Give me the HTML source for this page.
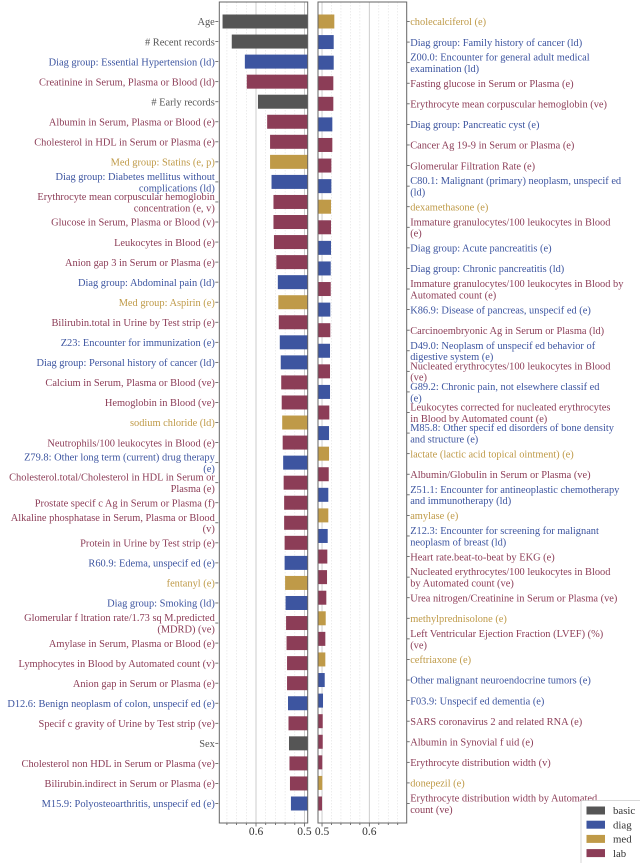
<!DOCTYPE html>
<html><head><meta charset="utf-8"><style>
body{margin:0;background:#fff;}
svg{display:block;font-family:"Liberation Serif",serif;}
</style></head><body>
<svg id="chart" width="640" height="863" viewBox="0 0 640 863" xmlns="http://www.w3.org/2000/svg"></svg>
<script>
const leftLabels=["Age","# Recent records","Diag group: Essential Hypertension (ld)","Creatinine in Serum, Plasma or Blood (ld)","# Early records","Albumin in Serum, Plasma or Blood (e)","Cholesterol in HDL in Serum or Plasma (e)","Med group: Statins (e, p)","Diag group: Diabetes mellitus without\ncomplications (ld)","Erythrocyte mean corpuscular hemoglobin\nconcentration (e, v)","Glucose in Serum, Plasma or Blood (v)","Leukocytes in Blood (e)","Anion gap 3 in Serum or Plasma (e)","Diag group: Abdominal pain (ld)","Med group: Aspirin (e)","Bilirubin.total in Urine by Test strip (e)","Z23: Encounter for immunization (e)","Diag group: Personal history of cancer (ld)","Calcium in Serum, Plasma or Blood (ve)","Hemoglobin in Blood (ve)","sodium chloride (ld)","Neutrophils/100 leukocytes in Blood (e)","Z79.8: Other long term (current) drug therapy\n(e)","Cholesterol.total/Cholesterol in HDL in Serum or\nPlasma (e)","Prostate specif c Ag in Serum or Plasma (f)","Alkaline phosphatase in Serum, Plasma or Blood\n(v)","Protein in Urine by Test strip (e)","R60.9: Edema, unspecif ed (e)","fentanyl (e)","Diag group: Smoking (ld)","Glomerular f ltration rate/1.73 sq M.predicted\n(MDRD) (ve)","Amylase in Serum, Plasma or Blood (e)","Lymphocytes in Blood by Automated count (v)","Anion gap in Serum or Plasma (e)","D12.6: Benign neoplasm of colon, unspecif ed (e)","Specif c gravity of Urine by Test strip (ve)","Sex","Cholesterol non HDL in Serum or Plasma (ve)","Bilirubin.indirect in Serum or Plasma (e)","M15.9: Polyosteoarthritis, unspecif ed (e)"];
const leftValues=[0.669,0.650,0.623,0.619,0.596,0.577,0.571,0.571,0.568,0.564,0.564,0.563,0.558,0.555,0.554,0.553,0.551,0.549,0.548,0.547,0.546,0.545,0.544,0.543,0.542,0.542,0.541,0.541,0.540,0.539,0.538,0.537,0.536,0.536,0.534,0.533,0.532,0.531,0.530,0.528];
const leftGroups=["basic","basic","diag","lab","basic","lab","lab","med","diag","lab","lab","lab","lab","diag","med","lab","diag","diag","lab","lab","med","lab","diag","lab","lab","lab","lab","diag","med","diag","lab","lab","lab","lab","diag","lab","basic","lab","lab","diag"];
const rightLabels=["cholecalciferol (e)","Diag group: Family history of cancer (ld)","Z00.0: Encounter for general adult medical\nexamination (ld)","Fasting glucose in Serum or Plasma (e)","Erythrocyte mean corpuscular hemoglobin (ve)","Diag group: Pancreatic cyst (e)","Cancer Ag 19-9 in Serum or Plasma (e)","Glomerular Filtration Rate (e)","C80.1: Malignant (primary) neoplasm, unspecif ed\n(ld)","dexamethasone (e)","Immature granulocytes/100 leukocytes in Blood\n(e)","Diag group: Acute pancreatitis (e)","Diag group: Chronic pancreatitis (ld)","Immature granulocytes/100 leukocytes in Blood by\nAutomated count (e)","K86.9: Disease of pancreas, unspecif ed (e)","Carcinoembryonic Ag in Serum or Plasma (ld)","D49.0: Neoplasm of unspecif ed behavior of\ndigestive system (e)","Nucleated erythrocytes/100 leukocytes in Blood\n(ve)","G89.2: Chronic pain, not elsewhere classif ed\n(e)","Leukocytes corrected for nucleated erythrocytes\nin Blood by Automated count (e)","M85.8: Other specif ed disorders of bone density\nand structure (e)","lactate (lactic acid topical ointment) (e)","Albumin/Globulin in Serum or Plasma (ve)","Z51.1: Encounter for antineoplastic chemotherapy\nand immunotherapy (ld)","amylase (e)","Z12.3: Encounter for screening for malignant\nneoplasm of breast (ld)","Heart rate.beat-to-beat by EKG (e)","Nucleated erythrocytes/100 leukocytes in Blood\nby Automated count (ve)","Urea nitrogen/Creatinine in Serum or Plasma (ve)","methylprednisolone (e)","Left Ventricular Ejection Fraction (LVEF) (%)\n(ve)","ceftriaxone (e)","Other malignant neuroendocrine tumors (e)","F03.9: Unspecif ed dementia (e)","SARS coronavirus 2 and related RNA (e)","Albumin in Synovial f uid (e)","Erythrocyte distribution width (v)","donepezil (e)","Erythrocyte distribution width by Automated\ncount (ve)"];
const rightValues=[0.526,0.5247,0.5247,0.5239,0.5239,0.5218,0.5218,0.5197,0.5197,0.519,0.519,0.519,0.5184,0.5184,0.5175,0.5175,0.5169,0.5169,0.5169,0.5154,0.5148,0.5148,0.5142,0.5133,0.5133,0.512,0.5112,0.5106,0.5091,0.5078,0.507,0.507,0.5057,0.5021,0.5015,0.5015,0.5006,0.5006,0.5];
const rightGroups=["med","diag","diag","lab","lab","diag","lab","lab","diag","med","lab","diag","diag","lab","diag","lab","diag","lab","diag","lab","diag","med","lab","diag","med","diag","lab","lab","lab","med","lab","med","diag","diag","lab","lab","lab","med","lab"];
const legendNames=["basic","diag","med","lab"];
const tickValues=[0.6,0.5];

const colors={basic:"#555555",diag:"#3d55a0",med:"#bf9a48",lab:"#8c3d57"};
const NS="http://www.w3.org/2000/svg";
const svg=document.getElementById('chart');
function mk(tag,attrs,parent){const e=document.createElementNS(NS,tag);for(const k in attrs)e.setAttribute(k,attrs[k]);(parent||svg).appendChild(e);return e;}
const topY=2,bottomY=823,rowTop=21.5,rowBot=803.5;
const L={x0:219.3,x1:307.7,d0:0.6757,d1:0.4934};
const R={x0:318,x1:406.7,d0:0.4915,d1:0.679};
function sx(p,v){return p.x0+(v-p.d0)/(p.d1-p.d0)*(p.x1-p.x0);}
function rowY(i,n){return rowTop+i*(rowBot-rowTop)/(n-1);}

function panel(p,labels,values,groups,side,name){
  const g=mk('g',{});
  
  
  const lo=Math.min(p.d0,p.d1),hi=Math.max(p.d0,p.d1);
  for(let k=Math.ceil(lo*50);k<=Math.floor(hi*50);k++){
    const v=k/50, x=sx(p,v);
    const major=(k%5===0);
    const gl=mk('line',{x1:x,x2:x,y1:topY,y2:bottomY,stroke:major?"#c8c8c8":"#e0e0e0","stroke-width":major?0.9:0.6,"stroke-dasharray":major?"":"1.5,1.5"},g);
    
    
    const tk=mk('line',{x1:x,x2:x,y1:bottomY,y2:bottomY+(major?3.5:2),stroke:"#555","stroke-width":0.8},g);
    
    
  }
  tickValues.forEach(v=>{
    const t=mk('text',{x:sx(p,v),y:835,"text-anchor":"middle","font-size":"11.5",fill:"#333"},g);
    t.textContent=v.toFixed(1);
    
    
  });
  const n=labels.length;
  const base=side==='left'?p.x1:p.x0;
  for(let i=0;i<n;i++){
    const y=rowY(i,n), xv=sx(p,values[i]);
    const b=mk('rect',{x:Math.min(base,xv),y:y-7,width:Math.abs(base-xv),height:14,fill:colors[groups[i]]},g);
    
    
    const tx=side==='left'?p.x0-1:p.x1;
    const tkk=mk('line',{x1:tx,x2:side==='left'?tx-3:tx+3,y1:y,y2:y,stroke:"#555","stroke-width":0.8},g);
    
    
    const lines=labels[i].split("\n");
    const t=mk('text',{"font-size":"10.4",fill:colors[groups[i]],"text-anchor":side==='left'?"end":"start"},g);
    
    
    const lh=11.4, y0=y-(lines.length-1)*lh/2;
    lines.forEach((ln,j)=>{const ts=mk('tspan',{x:side==='left'?p.x0-4.5:p.x1+3.5,y:y0+j*lh+3.7},t);ts.textContent=ln;});
  }
  const fr=mk('rect',{x:p.x0,y:topY,width:p.x1-p.x0,height:bottomY-topY,fill:"none",stroke:"#666","stroke-width":1},g);
  
  
}
panel(L,leftLabels,leftValues,leftGroups,'left','left-panel');
panel(R,rightLabels,rightValues,rightGroups,'right','right-panel');

const lg=mk('g',{});


mk('rect',{x:581,y:800.5,width:62,height:66,fill:"#fff",stroke:"#ccc","stroke-width":0.8,rx:2},lg);
legendNames.forEach((nm,i)=>{
  const y=810.5+i*14.2;
  const e=mk('g',{},lg);
  
  
  mk('rect',{x:586.5,y:y-4,width:18.5,height:8,fill:colors[nm]},e);
  const t=mk('text',{x:613,y:y+3.7,"font-size":"10.8",fill:"#333"},e);
  t.textContent=nm;
});
</script>
</body></html>
